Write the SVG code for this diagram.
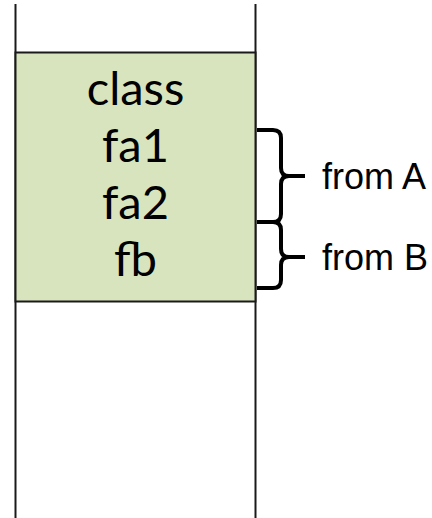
<svg xmlns="http://www.w3.org/2000/svg" width="432" height="518" viewBox="0 0 432 518">
  <style>
    .wall { stroke: #1a1a1a; stroke-width: 2; fill: none; }
    .box { fill: #d7e4bd; stroke: #1a1a1a; stroke-width: 2; }
    .field { font-family: Lato, "Liberation Sans", sans-serif; font-size: 47px; fill: #000; text-anchor: middle; }
    .brace { stroke: #000; stroke-width: 4; fill: none; stroke-linejoin: round; }
    .label { font-family: "Liberation Sans", Arial, sans-serif; font-size: 36px; fill: #000; }
  </style>

  <!-- memory column walls -->
  <g id="walls">
    <line class="wall" x1="15.5" y1="4" x2="15.5" y2="518"/>
    <line class="wall" x1="255.5" y1="4" x2="255.5" y2="518"/>
  </g>

  <!-- object block with its fields -->
  <g id="object">
    <rect class="box" x="15.5" y="52.5" width="240" height="249"/>
    <text class="field" x="135.5" y="105">class</text>
    <text class="field" x="135.5" y="162">fa1</text>
    <text class="field" x="135.5" y="219">fa2</text>
    <text class="field" x="135.5" y="276">fb</text>
  </g>

  <!-- braces grouping the fields -->
  <g id="connectors">
    <path class="brace" d="M257,130 H273 Q281,130 281,138 V168 Q281,176 289,176 Q281,176 281,184 V214 Q281,222 273,222 H257 M289,176 H305"/>
    <path class="brace" d="M257,222 H273 Q281,222 281,230 V249 Q281,257 289,257 Q281,257 281,265 V280 Q281,288 273,288 H257 M289,257 H305"/>
  </g>

  <g id="from-a">
    <text class="label" x="322" y="189">from A</text>
  </g>
  <g id="from-b">
    <text class="label" x="322" y="270">from B</text>
  </g>
</svg>
